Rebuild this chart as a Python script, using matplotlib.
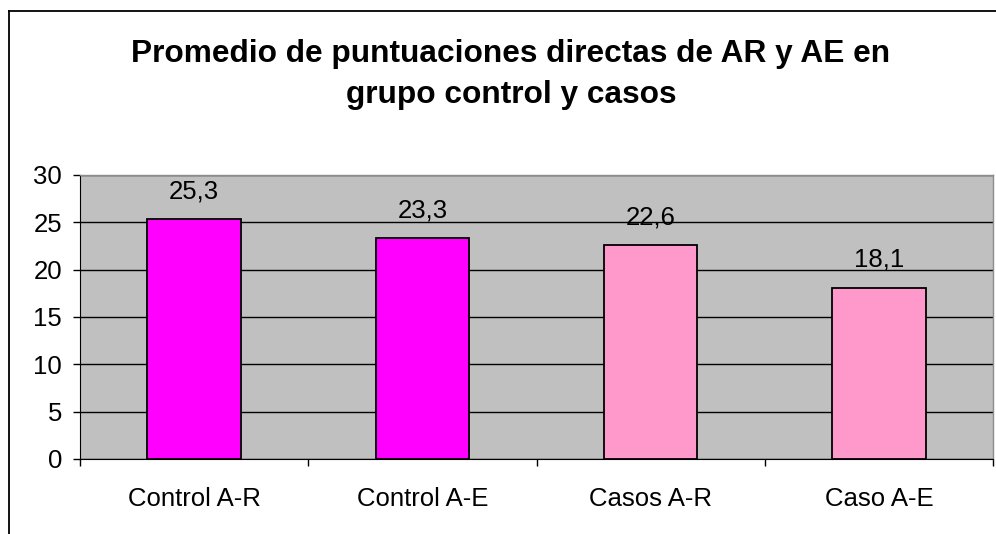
import matplotlib
matplotlib.use("Agg")
import matplotlib.pyplot as plt
from matplotlib.lines import Line2D

plt.rcParams['font.family'] = ['Liberation Sans', 'DejaVu Sans']

categories = ["Control A-R", "Control A-E", "Casos A-R", "Caso A-E"]
values = [25.3, 23.3, 22.6, 18.1]
bar_colors = ["#FF00FF", "#FF00FF", "#FF99CC", "#FF99CC"]
y_ticks = [0, 5, 10, 15, 20, 25, 30]
title_lines = ["Promedio de puntuaciones directas de AR y AE en", "grupo control y casos"]

W, H = 996, 534
fig = plt.figure(figsize=(W / 100, H / 100), dpi=100)
fig.patch.set_facecolor("white")

# outer chart border (runs off the right/bottom of the picture)
fig.add_artist(Line2D([9 / W, 9 / W], [0, 1 - 11 / H], color="black", lw=1.3))
fig.add_artist(Line2D([9 / W, 1], [1 - 11 / H, 1 - 11 / H], color="black", lw=1.3))

ax = fig.add_axes([80 / W, (H - 459) / H, (993 - 80) / W, (459 - 175) / H])
ax.set_facecolor("#C0C0C0")

x = list(range(len(categories)))
ax.bar(x, values, width=0.41, color=bar_colors, edgecolor="black", linewidth=1.3, zorder=3)

for xi, v in zip(x, values):
    ax.annotate(f"{v:.1f}".replace(".", ","), (xi, v), xytext=(0, 20), textcoords="offset points",
                ha="center", va="center", fontsize=18.5, zorder=4)

ax.set_xlim(-0.5, len(categories) - 0.5)
ax.set_ylim(0, 30)
ax.set_yticks(y_ticks)
ax.yaxis.grid(True, color="black", linewidth=1.0, zorder=1)
ax.set_axisbelow(True)

ax.set_xticks(x)
ax.set_xticklabels(categories)
ax.set_xticks([i - 0.5 for i in range(len(categories) + 1)], minor=True)
ax.tick_params(axis="x", which="major", length=0, pad=20, labelsize=18.5)
ax.tick_params(axis="x", which="minor", length=5, width=1, direction="out")
ax.tick_params(axis="y", length=5, width=1, pad=8, labelsize=18.5)

for side in ["top", "right"]:
    ax.spines[side].set_color("#8C8C8C")
    ax.spines[side].set_linewidth(1.0)
ax.spines["left"].set_color("black")
ax.spines["bottom"].set_color("black")

# title, one line at a time so the baselines land where they should
fig.text(511 / W, 1 - 62 / H, title_lines[0], ha="center", va="baseline",
         fontsize=22.8, fontweight="bold")
fig.text(511 / W, 1 - 103 / H, title_lines[1], ha="center", va="baseline",
         fontsize=22.8, fontweight="bold")

fig.savefig("out.png", dpi=100)
